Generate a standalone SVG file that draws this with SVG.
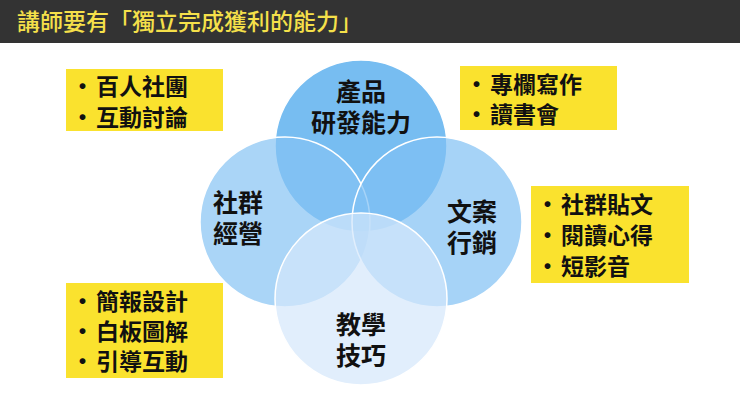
<svg xmlns="http://www.w3.org/2000/svg" width="740" height="403" viewBox="0 0 740 403">
<style>
.t{font-family:"Noto Sans CJK TC","Noto Sans CJK SC",sans-serif;font-weight:bold;fill:#111}
.c{font-size:25px;text-anchor:middle}
.b{font-size:23px}
.box{fill:#fae22e}
.circ{stroke:#fff;stroke-width:1.5}
</style>
<rect width="740" height="403" fill="#fff"/>
<rect width="740" height="43" fill="#333"/>
<text x="17" y="30" font-family="Noto Sans CJK TC,sans-serif" font-size="23" fill="#f5e04a" font-weight="500">講師要有「獨立完成獲利的能力」</text>
<g id="circles">
<circle id="top" class="circ" cx="361" cy="146" r="86" fill="#5fb1ee" fill-opacity="0.85"/>
<circle id="left" class="circ" cx="285" cy="222" r="85" fill="#86c3f3" fill-opacity="0.7"/>
<circle id="right" class="circ" cx="437" cy="222" r="85" fill="#80c0f3" fill-opacity="0.7"/>
<circle id="bottom" class="circ" cx="361" cy="299" r="86" fill="#d4e7fb" fill-opacity="0.7"/>
</g>
<g id="labels">
<text class="t c" x="361" y="101">產品</text>
<text class="t c" x="361" y="132">研發能力</text>
<text class="t c" x="238" y="212">社群</text>
<text class="t c" x="238" y="243">經營</text>
<text class="t c" x="472" y="221">文案</text>
<text class="t c" x="472" y="252">行銷</text>
<text class="t c" x="361" y="334">教學</text>
<text class="t c" x="361" y="365">技巧</text>
</g>
<g id="box1"><rect class="box" x="66" y="69" width="157" height="62"/>
<text class="t b" x="71" y="95">•</text><text class="t b" x="96" y="95">百人社團</text>
<text class="t b" x="71" y="126">•</text><text class="t b" x="96" y="126">互動討論</text></g>
<g id="box2"><rect class="box" x="460" y="66" width="157" height="64"/>
<text class="t b" x="465" y="93">•</text><text class="t b" x="490" y="93">專欄寫作</text>
<text class="t b" x="465" y="123">•</text><text class="t b" x="490" y="123">讀書會</text></g>
<g id="box3"><rect class="box" x="531" y="186" width="158" height="97"/>
<text class="t b" x="536" y="213">•</text><text class="t b" x="561" y="213">社群貼文</text>
<text class="t b" x="536" y="244">•</text><text class="t b" x="561" y="244">閱讀心得</text>
<text class="t b" x="536" y="275">•</text><text class="t b" x="561" y="275">短影音</text></g>
<g id="box4"><rect class="box" x="66" y="283" width="157" height="95"/>
<text class="t b" x="71" y="310">•</text><text class="t b" x="96" y="310">簡報設計</text>
<text class="t b" x="71" y="340">•</text><text class="t b" x="96" y="340">白板圖解</text>
<text class="t b" x="71" y="370">•</text><text class="t b" x="96" y="370">引導互動</text></g>
</svg>
